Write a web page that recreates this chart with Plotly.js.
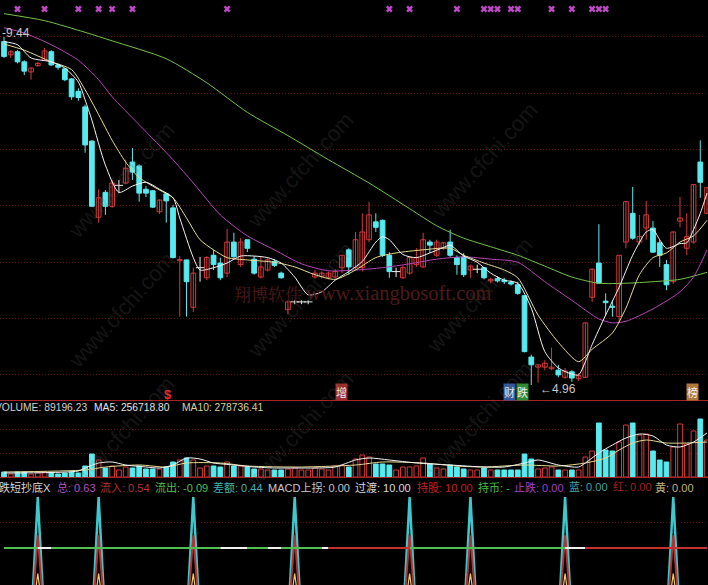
<!DOCTYPE html>
<html><head><meta charset="utf-8">
<script src="https://cdn.plot.ly/plotly-3.0.1.min.js"></script>
<style>html,body{margin:0;padding:0;background:#000;overflow:hidden}#chart{width:708px;height:585px}</style>
</head><body><div id="chart"></div>
<script>
// ---------- price data (index = trading day) ----------
const openP  = [9.38,9.21,9.25,9.12,8.99,9.07,9.14,9.25,9.08,9.03,8.90,8.74,8.54,8.10,7.12,7.44,7.26,7.53,7.56,7.83,7.78,7.48,7.46,7.19,7.42,7.24,6.56,6.57,5.96,6.47,6.34,6.63,6.53,6.40,6.80,6.51,6.83,6.58,6.35,6.44,6.55,6.40,5.93,6.03,6.03,6.03,6.35,6.36,6.34,6.35,6.47,6.70,6.47,6.47,6.83,7.06,7.08,6.63,6.42,6.34,6.40,6.51,6.48,6.80,6.63,6.72,6.80,6.60,6.61,6.44,6.45,6.47,6.30,6.33,6.31,6.28,6.25,6.11,5.32,5.19,5.19,5.17,5.15,5.06,5.13,5.04,5.06,6.09,6.53,6.04,5.97,5.84,6.80,7.17,6.80,6.98,6.98,6.79,6.51,6.29,7.07,6.72,6.80,7.83,7.17];
const highP  = [9.44,9.27,9.27,9.14,9.05,9.12,9.30,9.27,9.10,9.04,8.91,8.78,8.57,8.11,7.48,7.47,7.60,7.60,7.86,8.01,7.80,7.52,7.47,7.35,7.43,7.28,6.62,6.57,6.47,6.61,6.62,6.70,6.60,6.97,6.92,6.85,6.83,6.62,6.62,6.60,6.58,6.42,6.05,6.05,6.05,6.05,6.44,6.42,6.42,6.45,6.63,6.72,6.93,7.17,7.32,7.17,7.09,6.67,6.47,6.50,6.62,6.72,6.92,6.83,6.83,6.80,6.96,6.63,6.66,6.51,6.51,6.48,6.34,6.36,6.34,6.31,6.29,6.11,5.35,5.22,5.28,5.44,5.22,5.18,5.15,5.11,5.76,6.46,7.03,6.14,6.05,6.63,7.32,7.51,7.15,7.33,7.07,6.83,6.57,6.94,7.38,7.17,7.54,8.11,7.50];
const lowP   = [9.17,9.17,9.10,8.95,8.89,9.06,9.14,9.07,9.02,8.87,8.63,8.62,7.95,7.26,7.05,7.15,7.24,7.43,7.55,7.60,7.32,7.38,7.24,7.16,7.05,6.59,5.84,5.84,5.90,6.29,6.31,6.44,6.31,6.35,6.60,6.48,6.67,6.38,6.33,6.42,6.48,6.33,5.87,6.00,6.00,6.00,6.33,6.33,6.32,6.33,6.40,6.38,6.44,6.42,6.80,6.93,6.61,6.34,6.35,6.33,6.38,6.48,6.47,6.66,6.61,6.70,6.61,6.38,6.35,6.34,6.40,6.32,6.27,6.28,6.26,6.24,6.12,5.38,4.96,4.99,5.15,5.15,5.06,5.04,5.00,5.01,5.05,6.03,6.27,5.86,5.84,5.76,6.72,6.83,6.76,6.83,6.66,6.48,6.18,6.26,6.99,6.63,6.78,7.37,7.17];
const closeP = [9.19,9.25,9.12,9.00,9.04,9.10,9.26,9.08,9.05,8.89,8.67,8.66,8.05,7.26,7.37,7.26,7.56,7.53,7.75,7.70,7.43,7.43,7.25,7.34,7.33,6.60,6.57,6.29,6.40,6.47,6.60,6.51,6.34,6.80,6.61,6.80,6.72,6.40,6.48,6.57,6.50,6.34,6.03,6.03,6.03,6.03,6.40,6.40,6.40,6.42,6.63,6.48,6.83,6.93,7.15,6.99,6.63,6.42,6.42,6.47,6.60,6.60,6.83,6.76,6.80,6.79,6.63,6.51,6.38,6.49,6.45,6.34,6.32,6.30,6.29,6.26,6.14,5.39,5.22,5.22,5.24,5.19,5.09,5.14,5.05,5.08,5.76,6.45,6.27,6.02,5.96,6.63,7.32,6.85,6.87,7.15,6.67,6.63,6.25,6.93,7.11,6.87,7.54,7.57,7.50];
const volume = [25000,15000,25000,25000,15000,20000,25000,20000,15000,20000,25000,20000,55000,115000,85000,45000,55000,35000,50000,45000,55000,40000,40000,40000,50000,75000,85000,95000,85000,45000,55000,55000,50000,75000,55000,55000,50000,40000,40000,35000,35000,35000,40000,45000,35000,35000,45000,40000,35000,55000,60000,50000,90000,110000,100000,65000,65000,60000,35000,50000,50000,55000,95000,65000,45000,40000,60000,50000,40000,35000,35000,45000,35000,35000,35000,35000,35000,115000,90000,40000,45000,50000,35000,35000,35000,35000,100000,130000,270000,135000,130000,175000,260000,270000,210000,215000,130000,85000,75000,150000,265000,165000,230000,290000,185000];

// ---------- moving-average lines ----------
const ma5Idx  = [0,2,4,7,9,11,12,13,15,17,19,21,23,25,26,28,29,31,33,35,37,39,41,43,45,47,49,51,53,55,56,57,59,61,63,65,66,68,70,72,74,76,78,80,82,84,85,86,87,89,91,93,95,96,97,98,100,101,102,103,104];
const ma5Val  = [9.38,9.34,9.17,9.12,9.04,8.86,8.63,8.37,7.79,7.44,7.52,7.57,7.48,7.37,7.11,6.60,6.44,6.47,6.53,6.62,6.62,6.60,6.53,6.35,6.12,6.16,6.31,6.42,6.55,6.80,6.87,6.83,6.64,6.60,6.66,6.73,6.76,6.62,6.54,6.40,6.31,6.27,5.95,5.39,5.18,5.10,5.09,5.26,5.48,5.86,6.22,6.63,6.93,6.96,6.83,6.72,6.78,6.79,6.96,7.17,7.43];
const ma10Idx = [0,3,7,10,12,14,16,18,20,23,25,27,29,31,33,36,40,43,46,49,52,55,58,62,66,68,71,74,76,79,82,85,87,90,92,94,96,98,100,102,104];
const ma10Val = [9.35,9.27,9.12,9.02,8.76,8.44,8.11,7.83,7.63,7.47,7.37,7.11,6.83,6.70,6.60,6.57,6.54,6.48,6.38,6.32,6.44,6.60,6.66,6.70,6.72,6.63,6.53,6.44,6.34,5.86,5.51,5.26,5.42,5.63,5.95,6.38,6.60,6.66,6.80,6.88,7.08];
const ma20Idx = [0,3,7,11,14,16,20,25,28,32,36,40,44,48,52,56,60,64,68,72,76,80,84,88,90,92,96,100,102,104];
const ma20Val = [9.56,9.49,9.34,9.14,8.89,8.67,8.31,7.86,7.56,7.15,6.88,6.70,6.52,6.43,6.44,6.47,6.52,6.58,6.61,6.58,6.54,6.29,6.05,5.81,5.76,5.78,5.94,6.16,6.35,6.70];
const ma60Idx = [0,6,12,16,24,30,36,42,48,54,60,64,68,72,76,80,84,88,92,96,100,104];
const ma60Val = [9.74,9.65,9.50,9.39,9.16,8.85,8.47,8.17,7.86,7.56,7.23,7.01,6.85,6.74,6.63,6.49,6.35,6.27,6.27,6.29,6.32,6.41];

const vma5Idx  = [0,11,12,14,16,18,21,23,25,27,29,31,34,37,40,43,46,49,52,54,57,61,66,71,74,77,79,82,85,86,88,90,92,94,96,98,100,102,104];
const vma5Val  = [20000,30000,45000,70000,75000,60000,50000,45000,60000,95000,90000,70000,60000,50000,45000,45000,45000,50000,85000,95000,85000,70000,60000,50000,50000,70000,85000,60000,50000,70000,120000,160000,195000,215000,205000,160000,150000,175000,220000];
const vma10Idx = [0,12,15,20,24,27,32,36,44,52,56,62,67,71,77,82,86,89,91,93,95,98,101,104];
const vma10Val = [25000,35000,50000,60000,50000,70000,70000,55000,50000,60000,75000,70000,55000,50000,60000,55000,70000,95000,135000,170000,185000,170000,170000,175000];

// ---------- signals ----------
const signalIdx = [5,14,28,43,60,69,83,99];
const markIdx   = [2,6,11,14,16,19,33,57,60,67,71,72,73,75,76,81,84,87,88,89];
const stateRuns = [['G',5],['W',2],['G',25],['W',4],['G',3],['W',2],['G',6],['W',1],['R',12],['G',23],['W',3],['R',19]];

const N = closeP.length;
const idx = Array.from({length:N},(_,i)=>i);
const RED='#d63a3a', CYAN='#58eaee', WHITE='#eeeeee';
const isUp=i=>closeP[i]>openP[i], isDn=i=>closeP[i]<openP[i], isDoji=i=>closeP[i]===openP[i];
const MINB = 0.014;

function wickTrace(sel,color){
  const xs=[],ys=[];
  idx.filter(sel).forEach(i=>{xs.push(i,i,null);ys.push(lowP[i],highP[i],null);});
  return {type:'scatter',mode:'lines',x:xs,y:ys,line:{color:color,width:1},xaxis:'x',yaxis:'y',hoverinfo:'skip'};
}
const upI=idx.filter(isUp), dnI=idx.filter(isDn), djI=idx.filter(isDoji);
const traces=[];
function maLine(xi,yv,color,ax){return {type:'scatter',mode:'lines',x:xi,y:yv,line:{color:color,width:1,shape:'spline',smoothing:0.7},xaxis:'x',yaxis:ax,hoverinfo:'skip'};}
traces.push(wickTrace(isUp,RED), wickTrace(isDn,CYAN), wickTrace(isDoji,WHITE));
traces.push({type:'bar',x:upI,base:upI.map(i=>openP[i]),y:upI.map(i=>Math.max(closeP[i]-openP[i],MINB)),width:0.7,
  marker:{color:'#000',line:{color:RED,width:1}},xaxis:'x',yaxis:'y',hoverinfo:'skip'});
traces.push({type:'bar',x:dnI,base:dnI.map(i=>closeP[i]),y:dnI.map(i=>Math.max(openP[i]-closeP[i],MINB)),width:0.7,
  marker:{color:CYAN,line:{color:CYAN,width:1}},xaxis:'x',yaxis:'y',hoverinfo:'skip'});
traces.push({type:'scatter',mode:'markers',x:djI,y:djI.map(i=>closeP[i]),
  marker:{symbol:'line-ew',size:6,line:{color:WHITE,width:1}},xaxis:'x',yaxis:'y',hoverinfo:'skip'});

traces.push(maLine(ma60Idx,ma60Val,'#74c446','y'));
traces.push(maLine(ma20Idx,ma20Val,'#b845b8','y'));
traces.push(maLine(ma10Idx,ma10Val,'#e6dc94','y'));
traces.push(maLine(ma5Idx,ma5Val,'#f4f4f4','y'));

// top markers
traces.push({type:'scatter',mode:'markers',x:markIdx,y:markIdx.map(()=>9.80),
  marker:{symbol:'x',size:6,color:'#c048c8'},xaxis:'x',yaxis:'y',hoverinfo:'skip'});

// volume
traces.push({type:'bar',x:idx,y:volume,width:0.7,
  marker:{color:idx.map(i=>isDn(i)?CYAN:'#000'),line:{color:idx.map(i=>isDn(i)?CYAN:RED),width:1}},
  xaxis:'x',yaxis:'y2',hoverinfo:'skip'});
traces.push(maLine(vma10Idx,vma10Val,'#e6dc94','y2'));
traces.push(maLine(vma5Idx,vma5Val,'#f4f4f4','y2'));

// indicator panel
const sigSet=new Set(signalIdx);
function spike(peak){return idx.map(i=>sigSet.has(i)?peak:0);}
traces.push({type:'scatter',mode:'lines',x:idx,y:spike(100),line:{color:'#3cc8cc',width:2.5},xaxis:'x',yaxis:'y3',hoverinfo:'skip'});
traces.push({type:'scatter',mode:'lines',x:idx,y:spike(70),line:{color:'#b83030',width:2},xaxis:'x',yaxis:'y3',hoverinfo:'skip'});
traces.push({type:'scatter',mode:'lines',x:idx,y:spike(40),line:{color:'#e8d070',width:1.2},xaxis:'x',yaxis:'y3',hoverinfo:'skip'});
const state=[]; stateRuns.forEach(([s,n])=>{for(let k=0;k<n;k++)state.push(s);});
const stateColor={G:'#50c050',W:'#f0f0f0',R:'#c83030'};
Object.keys(stateColor).forEach(s=>{
  const y=idx.map(i=>(state[i]===s||(i>0&&state[i-1]===s))?60:null);
  traces.push({type:'scatter',mode:'lines',x:idx,y:y,line:{color:stateColor[s],width:2},xaxis:'x',yaxis:'y3',connectgaps:false,hoverinfo:'skip'});
});

// ---------- layout ----------
const W=708,H=585;
const px=(x)=>x/W, py=(y)=>1-y/H;
const priceGrid=[0,1,2,3,4,5,6].map(k=>9.44-0.7248*k);
const FONT='Liberation Sans, Noto Sans CJK SC, sans-serif';
const ann=[];
function txt(t,x,y,color,size,opt){ann.push(Object.assign({text:t,x:px(x),y:py(y),xref:'paper',yref:'paper',xanchor:'left',yanchor:'middle',showarrow:false,
  font:{family:FONT,size:size||11,color:color}},opt||{}));}
txt('-9.44',0,33,'#c8c8c8',12);
txt('←4.96',538,389,'#c8c8c8',12);
txt('$',162,394,'#e03030',13,{font:{family:'Liberation Sans',size:13,color:'#e03030',weight:'bold'}});
[['增',335,'#9e2c2c'],['财',503,'#34589c'],['跌',516,'#2e8a34'],['榜',686,'#b0783a']].forEach(([t,x,bg])=>{
  txt(t,x,392,'#f2f2f2',11,{bgcolor:bg,borderpad:0,font:{family:'Noto Sans CJK SC',size:11,color:'#f2f2f2'}});
});
txt('VOLUME: 89196.23',-7,407,'#d0d0d0',10.3);
txt('MA5: 256718.80',92,407,'#e6e6e6',10.3);
txt('MA10: 278736.41',180,407,'#dcd49a',10.3);
[['跌短抄底X',-3,'#d8d8d8'],['总: 0.63',55,'#b050c0'],['流入: 0.54',98,'#b83030'],['流出: -0.09',153,'#50c050'],
 ['差额: 0.44',211,'#40b4b4'],['MACD上拐: 0.00',266,'#c8c8c8'],['过渡: 10.00',353,'#dcdcdc'],['持股: 10.00',415,'#c42020'],
 ['持币: -',476,'#40c040'],['止跌: 0.00',512,'#a440c4'],['蓝: 0.00',567,'#40a4a4'],['红: 0.00',611,'#a42020'],['黄: 0.00',653,'#c4b474']]
 .forEach(([t,x,c])=>txt(t,x,487,c,11));
// watermarks
[[60,115],[300,105],[545,95],[60,310],[300,300],[540,295],[60,500],[300,495],[540,485]].forEach(([x,y])=>{
  ann.push({text:'www.cfchi.com',x:px(x),y:py(y),xref:'paper',yref:'paper',showarrow:false,textangle:-48,
    font:{family:'Liberation Sans',size:22,color:'rgba(110,110,110,0.2)'}});
});
ann.push({text:'翔博软件',x:px(232),y:py(293),xref:'paper',yref:'paper',xanchor:'left',yanchor:'middle',showarrow:false,
  font:{family:'Noto Serif CJK SC, Noto Sans CJK SC, serif',size:17,color:'#4e1a1a'}});
ann.push({text:'www.xiangbosoft.com',x:px(304),y:py(293),xref:'paper',yref:'paper',xanchor:'left',yanchor:'middle',showarrow:false,
  font:{family:'Liberation Serif, serif',size:20.5,color:'#4e1a1a'}});

const gridC='#5e1010';
const layout={
  width:W,height:H,margin:{l:0,r:0,t:0,b:0},paper_bgcolor:'#000',plot_bgcolor:'#000',
  showlegend:false,hovermode:false,barmode:'overlay',
  xaxis:{range:[-0.592,104.14],visible:false,fixedrange:true},
  yaxis:{domain:[py(400),1],range:[4.767,9.916],tickvals:priceGrid,showticklabels:false,showgrid:true,gridcolor:gridC,griddash:'1px,2px',gridwidth:1,zeroline:false,fixedrange:true,showline:false},
  yaxis2:{domain:[py(477),py(401)],range:[0,380000],tickvals:[120000,240000],showticklabels:false,showgrid:true,gridcolor:gridC,griddash:'1px,2px',zeroline:false,fixedrange:true},
  yaxis3:{domain:[0,py(478)],range:[31.0,114.9],tickvals:[80],showticklabels:false,showgrid:true,gridcolor:gridC,griddash:'1px,2px',zeroline:false,fixedrange:true},
  shapes:[
    {type:'line',xref:'paper',yref:'paper',x0:0,x1:1,y0:py(400.5),y1:py(400.5),line:{color:'#a82424',width:1}},
    {type:'line',xref:'paper',yref:'paper',x0:0,x1:1,y0:py(477.5),y1:py(477.5),line:{color:'#a82424',width:1}}
  ],
  annotations:ann
};
Plotly.newPlot('chart',traces,layout,{staticPlot:true,displayModeBar:false});
</script></body></html>
